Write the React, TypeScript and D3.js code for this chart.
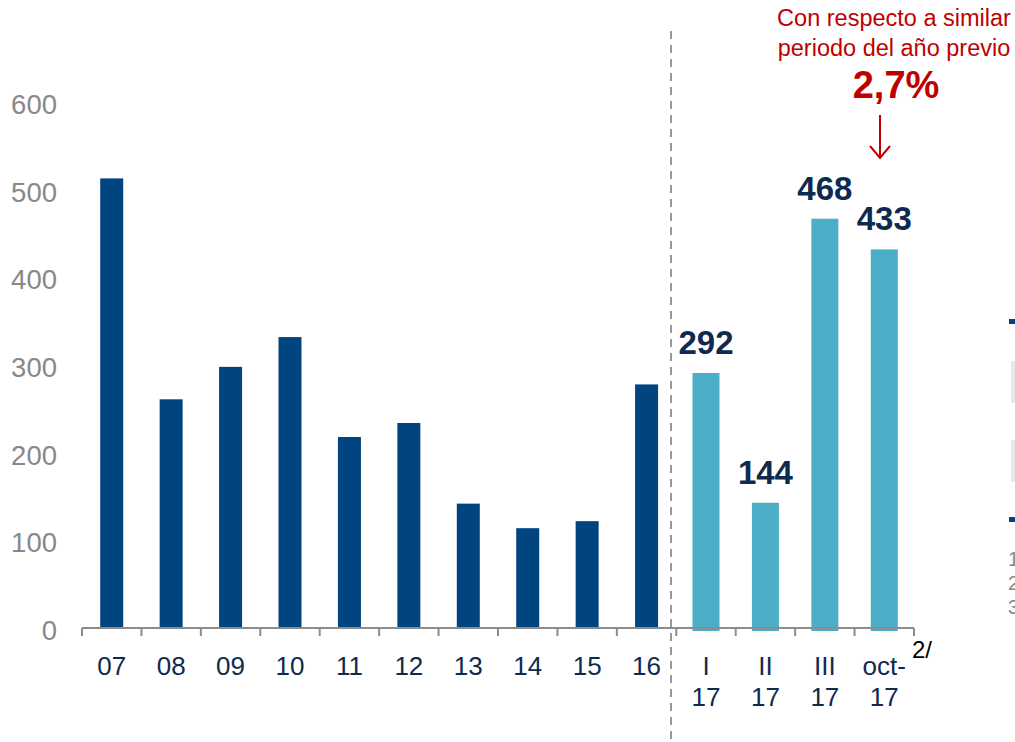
import React from "react";
import * as d3 from "d3";

const categories = ["07", "08", "09", "10", "11", "12", "13", "14", "15", "16", "I 17", "II 17", "III 17", "oct- 17"];
const values = [514, 262, 299, 333, 219, 235, 143, 115, 123, 279, 292, 144, 468, 433];
const highlighted = [false, false, false, false, false, false, false, false, false, false, true, true, true, true];
const yTicks = [0, 100, 200, 300, 400, 500, 600];
const annotationLines = ["Con respecto a similar", "periodo del año previo"];
const annotationValue = "2,7%";

const W = 1015;
const H = 742;
const FONT = "'Liberation Sans', Arial, Helvetica, sans-serif";
const DARK = "#00457f";
const LIGHT = "#4badc6";
const NAVY = "#0f2a4f";
const GRAY = "#888888";
const RED = "#c00000";

export default function App() {
  const x = d3.scaleBand<string>().domain(categories).range([82, 914]).padding(0);
  const y = d3.scaleLinear().domain([0, 600]).range([629, 103]);
  const bw = x.bandwidth();
  const axisY = 628;
  const dividerX = 671;

  return (
    <svg width={W} height={H} style={{ position: "absolute", left: 0, top: 0, background: "#fff" }} fontFamily={FONT}>
      {/* y tick labels */}
      {yTicks.map((t) => (
        <text key={t} x={57} y={y(t) + 11} textAnchor="end" fontSize={27.5} fill={GRAY}>
          {t}
        </text>
      ))}

      {/* bars */}
      {categories.map((c, i) => {
        const hw = highlighted[i] ? 27 : 23;
        const cx = (x(c) as number) + bw / 2;
        return (
          <rect
            key={c}
            x={cx - hw / 2}
            y={y(values[i])}
            width={hw}
            height={(highlighted[i] ? 631 : 629) - y(values[i])}
            fill={highlighted[i] ? LIGHT : DARK}
          />
        );
      })}

      {/* axis line */}
      <line x1={82} x2={914} y1={axisY} y2={axisY} stroke="#8c8c8c" strokeWidth={2} />
      {d3.range(categories.length + 1).map((i) => {
        const tx = 82 + i * bw;
        return <line key={i} x1={tx} x2={tx} y1={axisY} y2={636} stroke="#8c8c8c" strokeWidth={2} />;
      })}

      {/* x labels */}
      {categories.map((c) => {
        const parts = c.split(" ");
        const cx = (x(c) as number) + bw / 2;
        return (
          <text key={c} textAnchor="middle" fontSize={26} fill={NAVY}>
            {parts.map((p, j) => (
              <tspan key={j} x={cx} y={675 + j * 31}>
                {p}
              </tspan>
            ))}
          </text>
        );
      })}
      <text x={912} y={658} fontSize={24} fill="#000">
        2/
      </text>

      {/* value labels */}
      {categories.map((c, i) =>
        highlighted[i] ? (
          <text
            key={c}
            x={(x(c) as number) + bw / 2}
            y={y(values[i]) - 19}
            textAnchor="middle"
            fontSize={33}
            fontWeight="bold"
            fill={NAVY}
          >
            {values[i]}
          </text>
        ) : null
      )}

      {/* divider */}
      <line x1={dividerX} x2={dividerX} y1={31} y2={H} stroke="#999" strokeWidth={2} strokeDasharray="8 6" />

      {/* annotation */}
      {annotationLines.map((l, i) => (
        <text key={i} x={894} y={26 + i * 30} textAnchor="middle" fontSize={23.5} fill={RED}>
          {l}
        </text>
      ))}
      <text x={896} y={98} textAnchor="middle" fontSize={38} fontWeight="bold" fill={RED}>
        {annotationValue}
      </text>
      <line x1={880} x2={880} y1={115} y2={158} stroke={RED} strokeWidth={2} />
      <polyline points="870,146 880,158 890,146" fill="none" stroke={RED} strokeWidth={2} />

      {/* cut-off legend fragments at right edge */}
      <rect x={1009} y={319} width={6} height={5} fill={DARK} />
      <rect x={1011} y={361} width={4} height={42} fill="#e8e8e8" />
      <rect x={1011} y={440} width={4} height={42} fill="#e8e8e8" />
      <rect x={1009} y={517} width={6} height={5} fill={DARK} />
      {["1", "2", "3"].map((t, i) => (
        <text key={t} x={1008} y={566 + i * 24} fontSize={20} fill={GRAY}>
          {t}
        </text>
      ))}
    </svg>
  );
}
